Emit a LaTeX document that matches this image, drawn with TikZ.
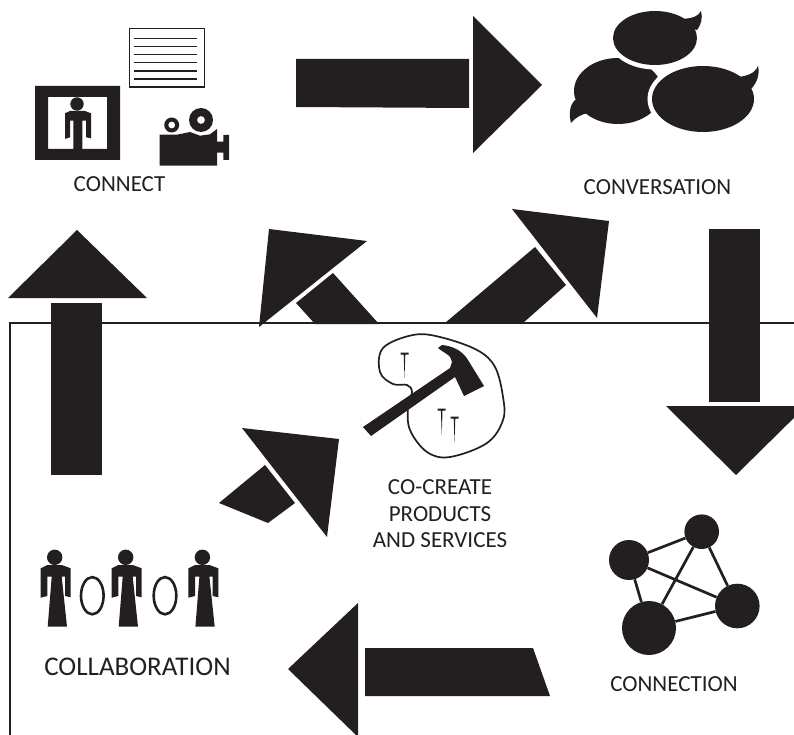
\documentclass[tikz,border=0pt]{standalone}
\usepackage{fontspec}
\setmainfont{Carlito}
\definecolor{ink}{HTML}{231F20}
\tikzset{
  solidshape/.style={fill=ink,draw=none},
  lbl/.style={text=ink,inner sep=0pt,align=center,font=\fontsize{23}{26.5}\selectfont},
  lblbig/.style={text=ink,inner sep=0pt,align=center,font=\fontsize{27}{30}\selectfont},
  hub/.style={circle,fill=ink,draw=none,inner sep=0pt},
  link/.style={draw=ink,line width=2.7pt},
  bubble/.style={fill=ink,preaction={draw=white,line width=9pt}},
  rule/.style={draw=ink,line width=2.4pt},
}
\newcommand{\personfig}[1]{%
  \begin{scope}[xshift=#1pt]
  \fill[ink] (54.7,557.3) circle (7.7);
  \fill[ink] (40.7,568.3)--(47.3,565)--(61.7,565)--(70.7,568.3)--(70.7,597.3)--(65,596)--(65,576.7)--(61.7,576.7)--(67,626.7)--(47.7,626.7)--(51.7,576.7)--(47.3,576.7)--(47.3,596)--(40.7,597.7)--cycle;
  \end{scope}}
\begin{document}
\begin{tikzpicture}[x=1pt,y=-1pt]
\useasboundingbox (0,0) rectangle (794,735);
\clip (0,0) rectangle (794,735);
% frame
\draw[rule] (10,735)--(10,323)--(794,323);
% big arrows
\fill[solidshape] (296,59)--(469,59)--(469,108)--(296,107)--cycle;
\fill[solidshape] (473,16)--(542,85)--(473,153)--cycle;
\fill[solidshape] (51,303)--(102,303)--(102,475)--(51,475)--cycle;
\fill[solidshape] (8,298)--(77,230)--(147,298)--cycle;
\fill[solidshape] (709,229)--(760,229)--(760,402)--(709,402)--cycle;
\fill[solidshape] (666,406)--(736,475)--(806,406)--cycle;
\fill[solidshape] (365,648)--(533,648)--(550,696)--(365,696)--cycle;
\fill[solidshape] (358,603)--(358,737)--(288,669)--cycle;
% diagonal arrows
\fill[solidshape] (269,229)--(367,241)--(259,327)--cycle;
\fill[solidshape] (333,273)--(296,303)--(315,324)--(379,324)--cycle;
\fill[solidshape] (512,209)--(609,221)--(597,318)--cycle;
\fill[solidshape] (535,247)--(566,285)--(523,323)--(445,323)--cycle;
\fill[solidshape] (242,428)--(339,439)--(327,537)--cycle;
\fill[solidshape] (265,465)--(295,503)--(268,523)--(219,503)--cycle;
% connect icon
\fill[ink,even odd rule] (35,86) rectangle (120,160) (48,97) rectangle (107,149);
\fill[ink] (77,104) circle (6.7);
\fill[ink] (65,113.3)--(70,111)--(85,111)--(91,113.3)--(91,138.3)--(86,137.3)--(86,120.7)--(82.3,120.7)--(82.3,149)--(73.3,149)--(73.3,120.7)--(70,120.7)--(70,137.3)--(65,139)--cycle;
\draw[ink,line width=1.5pt] (129.5,28.5) rectangle (204.5,87);
\foreach \yy in {38.5,46.6,54.7,62.8,71,79}{\draw[ink,line width=1.2pt] (134,\yy)--(197,\yy);}
\fill[ink,even odd rule] (171.7,125) circle (7.5) (171.7,125) circle (3.5);
\fill[ink,even odd rule] (201,120) circle (12) (201,120) circle (4);
\fill[ink] (159.7,134.7)--(177,134.7)--(190,132)--(200,135.7)--(210,134.3)--(217,129)--(217,165.7)--(159.7,165.7)--cycle;
\fill[ink] (217,141.7)--(223.3,141.7)--(223.3,135)--(229,135)--(229,160)--(223.3,160)--(223.3,152.7)--(217,152.7)--cycle;
% speech bubbles
\fill[ink] (618,91) ellipse (44 and 33);
\fill[ink] (575,100) .. controls (569,106) and (569,115) .. (571,123) .. controls (575,118) and (581,114) .. (589,113)--(590,105)--cycle;
\fill[bubble] (655,38) ellipse (42 and 27);
\fill[ink] (683,19) .. controls (692,18) and (698,17) .. (701,11) .. controls (703,18) and (701,25) .. (697,30)--(690,28)--cycle;
\fill[bubble] (703,99) ellipse (51 and 33);
\fill[ink] (738,77) .. controls (748,76) and (755,73) .. (758,66) .. controls (760,74) and (757,83) .. (751,89)--(745,85)--cycle;
% hammer
\draw[ink,line width=1.7pt] plot[smooth cycle,tension=0.6] coordinates {(413,335)(440,337)(477,350)(495,367)(503,397)(503,420)(487,443)(450,457)(427,452)(410,430)(408,407)(412,392)(407,385)(393,384)(380,372)(383,348)};
\fill[ink] (363,427)--(371,436)--(455,377)--(464,396)--(484,386)--(468,360) .. controls (462,350) and (452,346) .. (442,345)--(438,348) .. controls (442,352) and (452,355) .. (452,362)--(450,368)--cycle;
\foreach \nx/\ny/\nb in {404.5/353.5/378,441.7/409.7/435,454.5/417.5/442}{
  \fill[ink] (\nx-4,\ny-1)--(\nx+4,\ny-1)--(\nx+4,\ny+1)--(\nx+.8,\ny+1)--(\nx,\nb)--(\nx-.8,\ny+1)--(\nx-4,\ny+1)--cycle;}
% people
\personfig{0}\personfig{71}\personfig{147.7}
\draw[ink,line width=2.6pt] (92.3,595.7) ellipse (11.3 and 18.6);
\draw[ink,line width=2.6pt] (165,595.7) ellipse (11.3 and 18.6);
% network
\node[hub,minimum size=34.6pt] (n1) at (701.7,531.7) {};
\node[hub,minimum size=40pt] (n2) at (629,560) {};
\node[hub,minimum size=54pt] (n3) at (649,628) {};
\node[hub,minimum size=44.6pt] (n4) at (737.3,606) {};
\draw[link] (n1)--(n2) (n1)--(n3) (n1)--(n4) (n2)--(n3) (n2)--(n4) (n3)--(n4);
% labels
\node[lbl] (t1) at (119.5,184) {CONNECT};
\node[lbl] (t2) at (657.5,187) {CONVERSATION};
\node[lbl] (t3) at (440,514) {CO-CREATE\\PRODUCTS\\AND SERVICES};
\node[lblbig] (t4) at (137.5,667) {COLLABORATION};
\node[lbl] (t5) at (674,684) {CONNECTION};
\end{tikzpicture}
\end{document}
